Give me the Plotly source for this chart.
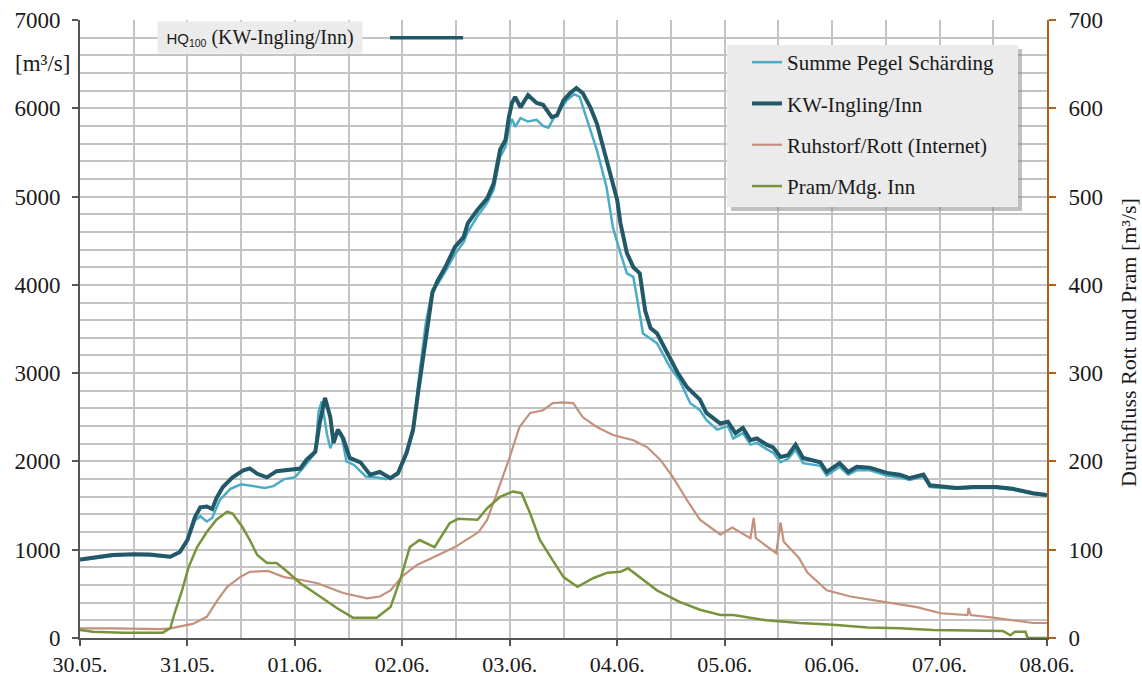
import pandas as pd
import plotly.graph_objects as go

START = pd.Timestamp("2013-05-30")

# ---- data (days since 30.05. 00:00, values) ----
kw_days = [0.00, 0.15, 0.30, 0.50, 0.65, 0.84, 0.93, 1.00, 1.07, 1.12, 1.18, 1.23, 1.27, 1.33, 1.42, 1.52,
           1.58, 1.65, 1.74, 1.83, 1.98, 2.05, 2.11, 2.19, 2.23, 2.28, 2.33, 2.36, 2.40, 2.45, 2.51, 2.61,
           2.70, 2.79, 2.89, 2.96, 3.04, 3.10, 3.15, 3.23, 3.28, 3.33, 3.40, 3.49, 3.57, 3.61, 3.70, 3.79,
           3.85, 3.91, 3.96, 3.99, 4.02, 4.05, 4.10, 4.17, 4.25, 4.31, 4.39, 4.44, 4.50, 4.56, 4.62, 4.68,
           4.75, 4.81, 4.87, 4.93, 5.00, 5.03, 5.09, 5.15, 5.21, 5.26, 5.31, 5.37, 5.46, 5.56, 5.65, 5.77,
           5.83, 5.96, 6.03, 6.10, 6.17, 6.24, 6.30, 6.39, 6.45, 6.52, 6.59, 6.66, 6.73, 6.89, 6.95, 7.07,
           7.15, 7.23, 7.35, 7.51, 7.63, 7.72, 7.85, 7.91, 8.00, 8.16, 8.31, 8.53, 8.68, 8.87, 9.00]
kw_values = [890, 920, 940, 950, 945, 920, 975, 1110, 1370, 1480, 1490, 1460, 1585, 1710, 1820, 1900,
             1920, 1860, 1820, 1890, 1910, 1920, 2020, 2110, 2430, 2720, 2500, 2210, 2360, 2260, 2040, 1990,
             1850, 1880, 1810, 1870, 2100, 2360, 2810, 3450, 3910, 4050, 4200, 4430, 4540, 4700, 4850, 4980,
             5150, 5530, 5640, 5890, 6060, 6130, 6010, 6150, 6060, 6040, 5900, 5920, 6090, 6170, 6230, 6170,
             6010, 5830, 5560, 5300, 4960, 4700, 4360, 4200, 4130, 3710, 3510, 3450, 3230, 3010, 2840, 2700,
             2550, 2430, 2450, 2320, 2380, 2240, 2260, 2190, 2160, 2050, 2070, 2190, 2040, 1990, 1880, 1980,
             1880, 1940, 1930, 1870, 1850, 1810, 1850, 1730, 1720, 1700, 1710, 1710, 1690, 1640, 1620]

summe_days = [0.00, 0.30, 0.50, 0.84, 0.93, 1.00, 1.07, 1.12, 1.18, 1.23, 1.30, 1.40, 1.50, 1.60, 1.72, 1.80,
              1.90, 2.00, 2.10, 2.19, 2.22, 2.25, 2.30, 2.33, 2.38, 2.43, 2.48, 2.55, 2.66, 2.75, 2.85, 2.96,
              3.04, 3.10, 3.15, 3.22, 3.28, 3.33, 3.40, 3.49, 3.57, 3.61, 3.70, 3.79, 3.85, 3.91, 3.96, 3.99,
              4.02, 4.05, 4.10, 4.17, 4.25, 4.31, 4.36, 4.41, 4.47, 4.53, 4.60, 4.65, 4.72, 4.81, 4.90, 4.96,
              5.03, 5.09, 5.15, 5.21, 5.24, 5.37, 5.49, 5.58, 5.68, 5.77, 5.83, 5.93, 6.03, 6.08, 6.17, 6.24,
              6.30, 6.39, 6.45, 6.52, 6.59, 6.66, 6.73, 6.89, 6.95, 7.07, 7.15, 7.23, 7.35, 7.51, 7.63, 7.72,
              7.85, 7.91, 8.00, 8.16, 8.31, 8.53, 8.68, 8.87, 9.00]
summe_values = [880, 930, 950, 915, 970, 1100, 1330, 1380, 1320, 1360, 1560, 1690, 1740, 1720, 1700, 1720,
                1800, 1820, 1960, 2100, 2560, 2680, 2300, 2150, 2310, 2320, 2000, 1960, 1830, 1820, 1800, 1850,
                2080, 2330, 2900, 3580, 3950, 4010, 4150, 4350, 4480, 4600, 4780, 4930, 5080, 5450, 5560, 5760,
                5880, 5790, 5890, 5850, 5870, 5800, 5780, 5890, 5980, 6090, 6160, 6130, 5870, 5530, 5110, 4650,
                4360, 4130, 4090, 3640, 3450, 3340, 3070, 2920, 2660, 2580, 2470, 2360, 2400, 2260, 2320, 2190,
                2210, 2140, 2100, 1990, 2030, 2130, 1980, 1950, 1840, 1940, 1850, 1900, 1900, 1840, 1820, 1790,
                1830, 1710, 1700, 1690, 1700, 1700, 1680, 1630, 1610]

rott_days = [0.00, 0.30, 0.75, 0.84, 1.05, 1.18, 1.28, 1.37, 1.49, 1.58, 1.75, 1.90, 2.05, 2.21, 2.45, 2.67,
             2.79, 2.89, 3.01, 3.14, 3.28, 3.44, 3.49, 3.71, 3.79, 3.88, 4.00, 4.09, 4.19, 4.31, 4.40, 4.49,
             4.59, 4.68, 4.81, 4.96, 5.15, 5.28, 5.40, 5.52, 5.65, 5.77, 5.96, 6.07, 6.24, 6.27, 6.29, 6.48,
             6.52, 6.55, 6.69, 6.77, 6.95, 7.17, 7.48, 7.79, 8.01, 8.26, 8.27, 8.29, 8.50, 8.87, 9.00]
rott_values = [11, 11, 10, 11, 16, 24, 43, 58, 69, 75, 76, 69, 66, 62, 51, 45,
               47, 54, 71, 83, 91, 100, 103, 120, 134, 164, 205, 239, 255, 258, 266, 267,
               266, 250, 239, 230, 224, 216, 202, 182, 156, 134, 117, 125, 113, 136, 113, 96,
               131, 109, 91, 74, 54, 47, 41, 35, 28, 26, 34, 26, 23, 17, 17]

pram_days = [0.00, 0.12, 0.40, 0.77, 0.84, 0.88, 0.95, 1.01, 1.09, 1.18, 1.27, 1.37, 1.42, 1.51, 1.58, 1.65,
             1.74, 1.83, 1.93, 2.05, 2.21, 2.39, 2.54, 2.76, 2.89, 2.98, 3.07, 3.16, 3.30, 3.44, 3.52, 3.70,
             3.79, 3.91, 4.03, 4.11, 4.19, 4.28, 4.40, 4.50, 4.63, 4.78, 4.91, 5.03, 5.10, 5.21, 5.37, 5.58,
             5.77, 5.96, 6.08, 6.39, 6.70, 7.01, 7.33, 7.63, 7.94, 8.59, 8.66, 8.70, 8.80, 8.82, 9.00]
pram_values = [9, 7, 6, 6, 11, 28, 54, 80, 103, 120, 134, 143, 141, 126, 111, 94,
               85, 85, 75, 62, 49, 34, 23, 23, 35, 66, 103, 111, 103, 130, 135, 134,
               147, 160, 166, 164, 141, 111, 88, 69, 58, 68, 74, 75, 79, 69, 54, 41,
               32, 26, 26, 20, 17, 15, 12, 11, 9, 8, 3, 7, 7, 0, 0]

hq100_value = 6800
hq100_days = [2.886, 3.566]

x_tick_days = list(range(10))
y_left_ticks = [0, 1000, 2000, 3000, 4000, 5000, 6000, 7000]
y_right_ticks = [0, 100, 200, 300, 400, 500, 600, 700]


def to_dates(days):
    return [START + pd.Timedelta(days=d) for d in days]


SERIF = "Liberation Serif"
C_SUMME = "#4bacc6"
C_KW = "#215968"
C_ROTT = "#c3917c"
C_PRAM = "#77933c"
C_AXIS2 = "#b0601e"
TXT = "#1a1a1a"

# plot area in pixels: x 80..1047, y 20..638
PL, PR, PT, PB = 80, 1047, 20, 638


def px(x):
    return (x - PL) / (PR - PL)


def py(y):
    return (PB - y) / (PB - PT)


fig = go.Figure()
fig.add_trace(go.Scatter(x=to_dates(hq100_days), y=[hq100_value] * len(hq100_days), mode="lines",
                         line=dict(color=C_KW, width=3.5), showlegend=False, hoverinfo="skip"))
fig.add_trace(go.Scatter(x=to_dates(summe_days), y=summe_values, mode="lines", name="Summe Pegel Schärding",
                         line=dict(color=C_SUMME, width=2.5), legendgroup="a"))
fig.add_trace(go.Scatter(x=to_dates(kw_days), y=kw_values, mode="lines", name="KW-Ingling/Inn",
                         line=dict(color=C_KW, width=4), legendgroup="b"))
fig.add_trace(go.Scatter(x=to_dates(rott_days), y=rott_values, mode="lines", name="Ruhstorf/Rott (Internet)",
                         line=dict(color=C_ROTT, width=2.2), yaxis="y2", legendgroup="c"))
fig.add_trace(go.Scatter(x=to_dates(pram_days), y=pram_values, mode="lines", name="Pram/Mdg. Inn",
                         line=dict(color=C_PRAM, width=2.5), yaxis="y2", legendgroup="d"))

grid_c = "#c3c3c3"
fig.update_layout(
    width=1142, height=679,
    margin=dict(l=PL, r=1142 - PR, t=PT, b=679 - PB, autoexpand=False),
    paper_bgcolor="white", plot_bgcolor="white",
    font=dict(family=SERIF, size=21, color=TXT),
    showlegend=True,
    legend=dict(x=px(747), y=py(42), xanchor="left", yanchor="top", bgcolor="rgba(0,0,0,0)",
                font=dict(family=SERIF, size=21, color=TXT), tracegroupgap=11, itemwidth=30,
                traceorder="grouped"),
    xaxis=dict(
        type="date",
        range=[START, START + pd.Timedelta(days=9)],
        tickmode="array",
        tickvals=to_dates(x_tick_days),
        ticktext=[d.strftime("%d.%m.") for d in to_dates(x_tick_days)],
        ticks="outside", ticklen=6, tickwidth=1.5, tickcolor="#555555",
        showline=True, linecolor="#555555", linewidth=2,
        showgrid=True, gridcolor=grid_c, gridwidth=1.5,
        minor=dict(dtick=43200000, showgrid=True, gridcolor=grid_c, gridwidth=1.5),
        tickfont=dict(family=SERIF, size=22, color=TXT),
        zeroline=False, automargin=False,
    ),
    yaxis=dict(
        range=[0, 7000], tickmode="array", tickvals=y_left_ticks,
        ticks="outside", ticklen=6, tickwidth=2, tickcolor="#555555",
        showline=True, linecolor="#555555", linewidth=2,
        showgrid=True, gridcolor=grid_c, gridwidth=1.5,
        minor=dict(dtick=200, showgrid=True, gridcolor=grid_c, gridwidth=1.5),
        tickfont=dict(family=SERIF, size=23, color=TXT),
        ticklabelstandoff=7,
        zeroline=False, automargin=False,
    ),
    yaxis2=dict(
        overlaying="y", side="right", range=[0, 700], tickmode="array", tickvals=y_right_ticks,
        ticks="outside", ticklen=7, tickwidth=2, tickcolor=C_AXIS2,
        showline=True, linecolor=C_AXIS2, linewidth=2, showgrid=False, zeroline=False,
        tickfont=dict(family=SERIF, size=23, color=TXT),
        ticklabelstandoff=8, automargin=False,
    ),
    shapes=[
        dict(type="rect", xref="paper", yref="paper", x0=px(731), x1=px(1022), y0=py(211), y1=py(49),
             fillcolor="#8c8c8c", opacity=0.55, line=dict(width=0), layer="above"),
        dict(type="rect", xref="paper", yref="paper", x0=px(727), x1=px(1018), y0=py(207), y1=py(45),
             fillcolor="#ebebeb", line=dict(width=0), layer="above"),
    ],
    annotations=[
        dict(xref="paper", yref="paper", x=px(260), y=py(37.5), xanchor="center", yanchor="middle",
             text="<span style='font-family:Liberation Sans;font-size:15px'>HQ<sub>100</sub></span> (KW-Ingling/Inn)",
             font=dict(family=SERIF, size=20, color=TXT), showarrow=False,
             bgcolor="#ebebeb", width=202, height=29, borderpad=1),
        dict(xref="paper", yref="paper", x=px(42), y=py(63), xanchor="center", yanchor="middle",
             text="[m³/s]", font=dict(family=SERIF, size=23, color=TXT), showarrow=False),
        dict(xref="paper", yref="paper", x=px(1128), y=py(343), xanchor="center", yanchor="middle",
             text="Durchfluss Rott und Pram [m³/s]", textangle=-90,
             font=dict(family=SERIF, size=22, color=TXT), showarrow=False),
    ],
)

fig.write_html("out.html")
